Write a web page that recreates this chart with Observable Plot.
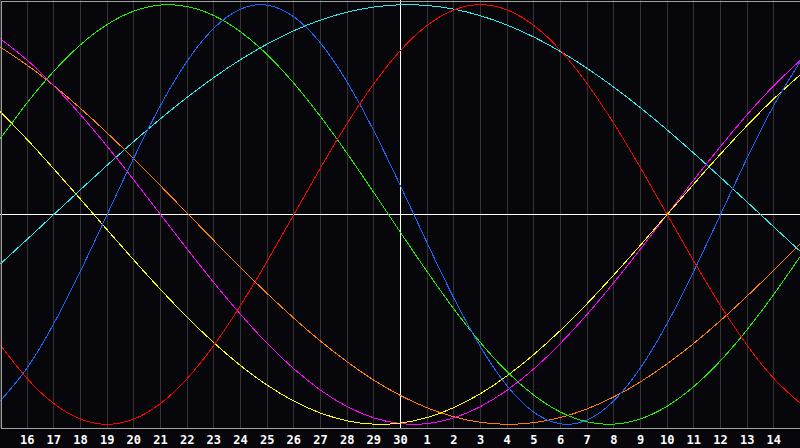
<!DOCTYPE html>
<html>
<head>
<meta charset="utf-8">
<script src="https://cdn.jsdelivr.net/npm/d3@7"></script>
<script src="https://cdn.jsdelivr.net/npm/@observablehq/plot@0.6"></script>
<style>
  html, body { margin: 0; padding: 0; background: #000; }
  #chart svg { display: block; shape-rendering: crispEdges; }
</style>
</head>
<body>
<div id="chart"></div>
<script>
// day offsets relative to "today" (the 30th)
const dayOffsets = [-15,-14,-13,-12,-11,-10,-9,-8,-7,-6,-5,-4,-3,-2,-1,0,1,2,3,4,5,6,7,8,9,10,11,12,13,14,15];
const tickOffsets = [-14,-13,-12,-11,-10,-9,-8,-7,-6,-5,-4,-3,-2,-1,0,1,2,3,4,5,6,7,8,9,10,11,12,13,14];
const tickLabels = ["16","17","18","19","20","21","22","23","24","25","26","27","28","29","30","1","2","3","4","5","6","7","8","9","10","11","12","13","14"];

// values, one per day offset
const redValues = [-0.6235,-0.7818,-0.9010,-0.9749,-1.0000,-0.9749,-0.9010,-0.7818,-0.6235,-0.4339,-0.2225,0,0.2225,0.4339,0.6235,0.7818,0.9010,0.9749,1.0000,0.9749,0.9010,0.7818,0.6235,0.4339,0.2225,0,-0.2225,-0.4339,-0.6235,-0.7818,-0.9010];
const greenValues = [0.3628,0.5326,0.6830,0.8090,0.9056,0.9695,0.9984,0.9911,0.9480,0.8708,0.7621,0.6256,0.4667,0.2908,0.1045,-0.0856,-0.2726,-0.4498,-0.6107,-0.7496,-0.8612,-0.9418,-0.9884,-0.9993,-0.9740,-0.9135,-0.8200,-0.6969,-0.5486,-0.3804,-0.1986];
const blueValues = [-0.8879,-0.7308,-0.5197,-0.2698,0,0.2698,0.5197,0.7308,0.8879,0.9791,0.9977,0.9423,0.8170,0.6310,0.3984,0.1362,-0.1362,-0.3984,-0.6310,-0.8170,-0.9423,-0.9977,-0.9791,-0.8879,-0.7308,-0.5197,-0.2698,0,0.2698,0.5197,0.7308];
const cyanValues = [-0.2349,-0.1183,0,0.1183,0.2349,0.3482,0.4566,0.5586,0.6529,0.7380,0.8125,0.8758,0.9267,0.9646,0.9890,0.9996,0.9961,0.9786,0.9473,0.9028,0.8457,0.7767,0.6965,0.6068,0.5085,0.4031,0.2920,0.1769,0.0593,-0.0593,-0.1769];
const yellowValues = [0.4894,0.3572,0.2174,0.0731,-0.0731,-0.2174,-0.3572,-0.4894,-0.6111,-0.7199,-0.8133,-0.8894,-0.9464,-0.9833,-0.9993,-0.9940,-0.9675,-0.9204,-0.8536,-0.7685,-0.6672,-0.5518,-0.4245,-0.2881,-0.1456,0,0.1456,0.2881,0.4245,0.5518,0.6672];
const magentaValues = [0.8372,0.7357,0.6142,0.4759,0.3247,0.1646,0,-0.1646,-0.3247,-0.4759,-0.6142,-0.7357,-0.8372,-0.9158,-0.9694,-0.9966,-0.9966,-0.9694,-0.9158,-0.8372,-0.7357,-0.6142,-0.4759,-0.3247,-0.1646,0,0.1646,0.3247,0.4759,0.6142,0.7357];
const orangeValues = [0.7975,0.7117,0.6140,0.5057,0.3887,0.2651,0.1370,0.0065,-0.1240,-0.2525,-0.3766,-0.4943,-0.6035,-0.7025,-0.7896,-0.8629,-0.9214,-0.9642,-0.9906,-1.0000,-0.9923,-0.9676,-0.9264,-0.8693,-0.7975,-0.7117,-0.6140,-0.5057,-0.3887,-0.2651,-0.1370];

const seriesNames = ["spiritual","awareness","intuition","aesthetic","intellectual","physical","emotional"];
const seriesValues = [cyanValues, orangeValues, magentaValues, yellowValues, greenValues, blueValues, redValues];
const seriesColors = ["#22eeee","#ff8000","#ff00ff","#ffff00","#22ee00","#1a66ff","#ff0000"];

const rows = seriesNames.flatMap((name, s) =>
  dayOffsets.map((d, k) => ({series: name, day: d, value: seriesValues[s][k]}))
);
const labelOf = new Map(tickOffsets.map((d, k) => [d, tickLabels[k]]));

const chart = Plot.plot({
  width: 800,
  height: 448,
  marginTop: 0,
  marginLeft: 0,
  marginRight: 0,
  marginBottom: 20,
  style: {background: "#07070b", color: "#fff", fontFamily: "'DejaVu Sans Mono', monospace"},
  x: {domain: [-15, 15], axis: null},
  y: {domain: [-1.02, 1.02], axis: null},
  color: {type: "ordinal", domain: seriesNames, range: seriesColors},
  marks: [
    Plot.ruleX(dayOffsets, {stroke: "#343434", strokeWidth: 1}),
    Plot.ruleX([0], {stroke: "#ffffff", strokeWidth: 1}),
    Plot.ruleY([0], {stroke: "#ffffff", strokeWidth: 1}),
    Plot.line(rows, {x: "day", y: "value", z: "series", stroke: "series", strokeWidth: 1, curve: "natural", clip: true}),
    Plot.frame({stroke: "#a0a0a0", strokeWidth: 1, inset: 0.5}),
    Plot.axisX(tickOffsets, {
      label: null,
      tickSize: 0,
      tickPadding: 7,
      tickFormat: d => labelOf.get(d),
      fontSize: 12,
      fontWeight: "bold",
      fill: "#ffffff"
    })
  ]
});
document.getElementById("chart").appendChild(chart);
</script>
</body>
</html>
